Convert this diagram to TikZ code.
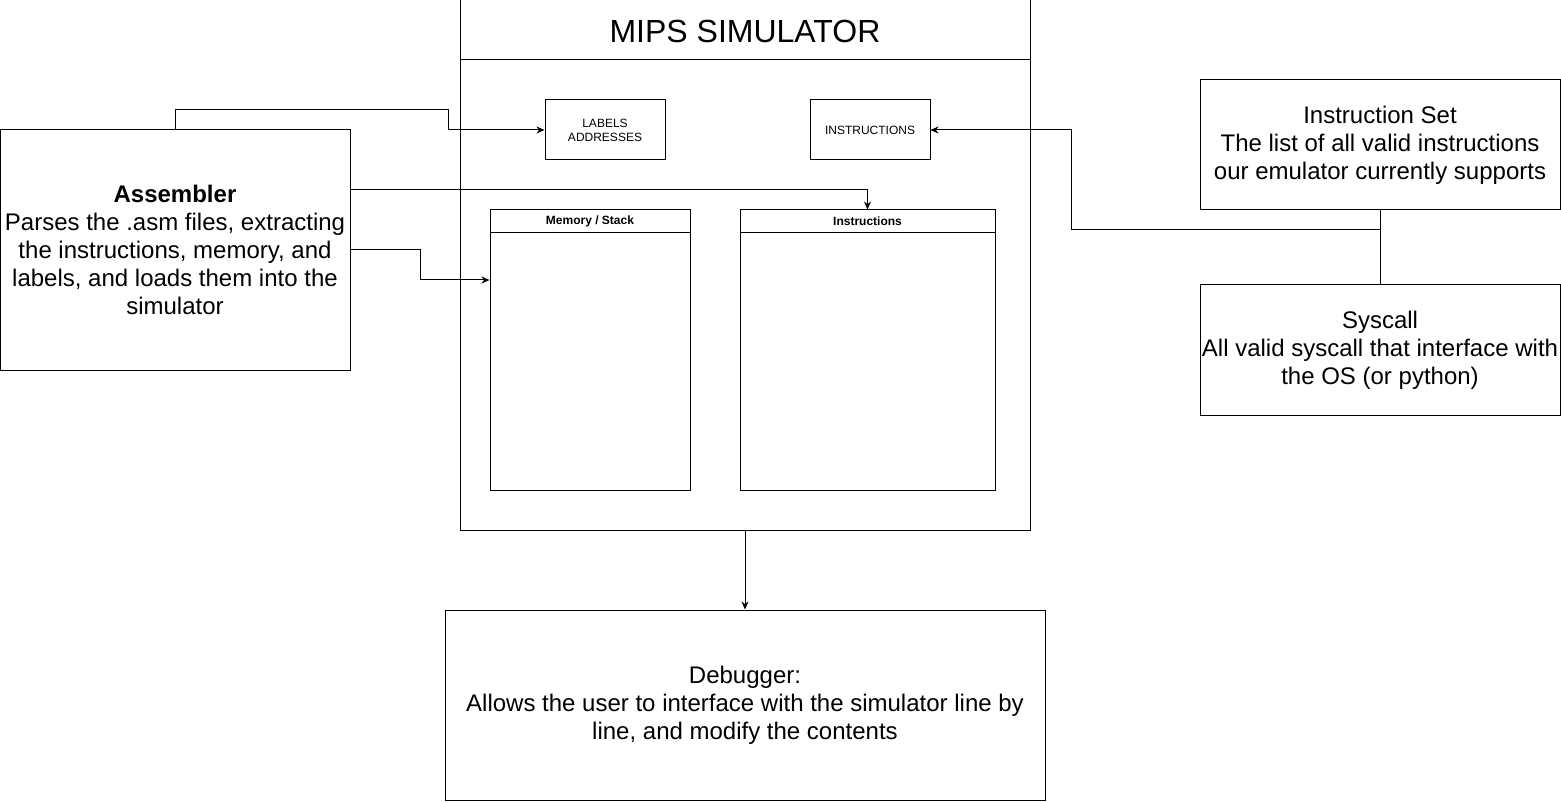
\documentclass[tikz,border=0pt]{standalone}
\usepackage{fontspec}
\setmainfont{Liberation Sans}
\usetikzlibrary{arrows.meta,positioning}

\tikzset{
    box/.style={draw, line width=1pt, rectangle, inner sep=0pt, align=center},
    bigtext/.style={font=\fontsize{24}{28}\selectfont},
    smalltext/.style={font=\fontsize{12}{14}\selectfont},
    link/.style={line width=1pt, -{Stealth[length=8pt,width=7pt]}},
    plain/.style={line width=1pt}
}

\begin{document}
\begin{tikzpicture}[x=1pt, y=-1pt]
    \useasboundingbox (0,0) rectangle (1561,802);

    % Draw simulator frame
    \node[box, minimum width=570pt, minimum height=530pt] (mips) at (745,265) {};
    \node[font=\fontsize{32}{36}\selectfont] (title) at (745,31) {MIPS SIMULATOR};
    \draw[plain] (mips.west |- 0,60) -- (mips.east |- 0,60);

    % Draw inner boxes
    \node[box, smalltext, minimum width=120pt, minimum height=60pt] (labels) at (605,130) {LABELS\\ADDRESSES};
    \node[box, smalltext, minimum width=120pt, minimum height=60pt] (instsmall) at (870,130) {INSTRUCTIONS};

    \node[box, minimum width=200pt, minimum height=280pt] (mem) at (590,350) {};
    \draw[plain] ([yshift=-23pt]mem.north west) -- ([yshift=-23pt]mem.north east);
    \node[font=\fontsize{12}{14}\selectfont\bfseries] (memhead) at ([yshift=-12pt]mem.north) {Memory / Stack};

    \node[box, minimum width=255pt, minimum height=280pt] (instr) at (867.5,350) {};
    \draw[plain] ([yshift=-23pt]instr.north west) -- ([yshift=-23pt]instr.north east);
    \node[font=\fontsize{12}{14}\selectfont\bfseries] (instrhead) at ([yshift=-12pt]instr.north) {Instructions};

    % Draw outer boxes
    \node[box, bigtext, minimum width=350pt, minimum height=240pt] (asm) at (175,250)
        {\textbf{Assembler}\\Parses the .asm files, extracting\\the instructions, memory, and\\labels, and loads them into the\\simulator};
    \node[box, bigtext, minimum width=360pt, minimum height=130pt] (iset) at (1380,145)
        {Instruction Set\\The list of all valid instructions\\our emulator currently supports};
    \node[box, bigtext, minimum width=360pt, minimum height=130pt] (syscall) at (1380,350)
        {Syscall\\All valid syscall that interface with\\the OS (or python)};
    \node[box, bigtext, minimum width=600pt, minimum height=190pt] (dbg) at (745,705)
        {Debugger:\\Allows the user to interface with the simulator line by\\line, and modify the contents};

    % Draw connecting lines
    \coordinate (asmbend) at (448,110);
    \coordinate (membend) at (420,250);
    \coordinate (isetbend) at (1071,230);
    \draw[link] (asm.north) |- (asmbend) |- (labels.west);
    \draw[link] ([yshift=60pt]asm.east) -| (instr.north);
    \draw[link] (asm.east) -- (membend) |- ([yshift=70pt]mem.west);
    \draw[link] (iset.south) |- (isetbend) |- (instsmall.east);
    \draw[plain] (syscall.north) -- (iset.south);
    \draw[link] (mips.south) -- (dbg.north);
\end{tikzpicture}
\end{document}
